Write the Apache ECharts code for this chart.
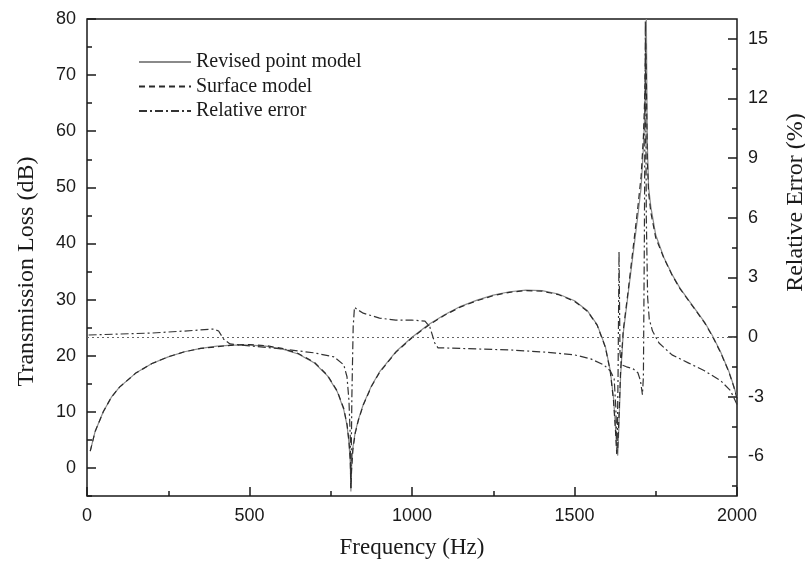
<!DOCTYPE html>
<html>
<head>
<meta charset="utf-8">
<script src="https://cdn.jsdelivr.net/npm/echarts@6/dist/echarts.min.js"></script>
<style>
html, body { margin: 0; padding: 0; background: #fff; }
#chart { width: 805px; height: 564px; }
</style>
</head>
<body>
<div id="chart"></div>
<script>
// frequency grid for the transmission loss curves (Hz)
var freqTL = [10, 25, 50, 75, 100, 150, 200, 250, 300, 350, 400, 450, 500, 550, 600,
    650, 700, 740, 770, 790, 800, 806, 810, 812, 814, 818, 825, 835, 850, 875,
    900, 950, 1000, 1050, 1100, 1150, 1200, 1250, 1300, 1350, 1400, 1450, 1500, 1540, 1570,
    1595, 1610, 1620, 1626, 1630, 1633, 1637, 1642, 1650, 1665, 1680, 1695, 1705, 1712, 1716,
    1719, 1721, 1724, 1728, 1735, 1750, 1775, 1800, 1825, 1850, 1875, 1900, 1925, 1950, 1975,
    1990, 2000];

var revisedTL = [3.0, 6.5, 10.0, 12.6, 14.4, 16.9, 18.6, 19.8, 20.7, 21.3, 21.7, 21.9, 21.9, 21.7, 21.2,
    20.3, 18.7, 16.4, 13.6, 10.4, 7.6, 4.5, 1.0, -4.2, 0.2, 3.6, 6.3, 8.6, 11.3, 14.6,
    17.1, 20.7, 23.3, 25.5, 27.3, 28.8, 29.9, 30.8, 31.4, 31.7, 31.6, 31.0, 29.8, 28.0, 25.5,
    21.6, 17.4, 12.5, 7.5, 3.0, 2.2, 8.0, 16.5, 24.0, 31.0, 38.0, 45.0, 50.0, 57.0, 63.0,
    72.0, 80.0, 58.0, 50.0, 46.5, 41.5, 37.5, 34.5, 32.0, 30.0, 28.0, 26.0, 23.5, 20.6, 17.2,
    14.6, 12.6];

var surfaceTL = [3.0, 6.5, 10.0, 12.6, 14.4, 16.9, 18.6, 19.8, 20.7, 21.3, 21.6, 21.9, 22.0, 21.8, 21.3,
    20.4, 18.8, 16.5, 13.7, 10.6, 7.8, 4.8, 1.5, -3.6, -0.5, 3.2, 6.1, 8.5, 11.2, 14.5,
    17.0, 20.6, 23.2, 25.4, 27.2, 28.7, 29.8, 30.7, 31.3, 31.6, 31.5, 30.9, 29.7, 27.9, 25.4,
    21.5, 17.2, 12.0, 6.8, 2.5, 3.5, 9.5, 17.5, 24.5, 31.5, 39.0, 46.5, 52.0, 59.0, 66.0,
    76.0, 70.0, 55.0, 49.0, 45.5, 41.0, 37.4, 34.4, 31.9, 29.9, 27.9, 25.9, 23.4, 20.5, 17.1,
    14.5, 12.4];

// relative error between the two models (%)
var freqErr = [5, 100, 200, 300, 390, 405, 420, 440, 500, 600, 700, 760, 790, 800, 806,
    810, 812, 815, 819, 823, 830, 850, 900, 950, 1000, 1040, 1055, 1070, 1080, 1100,
    1200, 1300, 1400, 1500, 1550, 1590, 1610, 1622, 1627, 1631, 1634, 1637, 1640, 1645, 1660,
    1680, 1695, 1703, 1709, 1712, 1715, 1718, 1721, 1725, 1730, 1740, 1760, 1800, 1850, 1900,
    1950, 1980, 2000];

var relErr = [0.1, 0.15, 0.2, 0.3, 0.4, 0.3, -0.1, -0.35, -0.45, -0.6, -0.8, -1.0, -1.4, -2.0, -3.2,
    -5.0, -7.6, -3.0, 0.5, 1.5, 1.4, 1.2, 0.95, 0.85, 0.85, 0.8, 0.5, -0.3, -0.55, -0.55,
    -0.6, -0.65, -0.75, -0.9, -1.1, -1.4, -1.7, -2.1, -3.5, -5.8, -2.0, 4.3, -0.8, -1.4, -1.5,
    -1.6, -1.8, -2.2, -2.9, -2.0, 5.0, 15.9, 6.0, 2.0, 0.9, 0.3, -0.3, -0.9, -1.3, -1.7,
    -2.2, -2.7, -3.4];

var freqLabels = [0, 500, 1000, 1500, 2000];
var freqMinor = [250, 750, 1250, 1750];
var tlLabels = [0, 10, 20, 30, 40, 50, 60, 70, 80];
var tlMinor = [-5, 5, 15, 25, 35, 45, 55, 65, 75];
var errLabels = [-6, -3, 0, 3, 6, 9, 12, 15];
var errMinor = [-7.5, -4.5, -1.5, 1.5, 4.5, 7.5, 10.5, 13.5];

function pairs(xs, ys) {
    var out = [];
    for (var i = 0; i < xs.length; i++) {
        out.push([xs[i], ys[i]]);
    }
    return out;
}

var ink = '#1a1a1a';
var sans = "'Liberation Sans', Arial, sans-serif";
var serif = "'Liberation Serif', 'Times New Roman', serif";

function tickLabel(values) {
    return {
        customValues: values, margin: 11,
        fontFamily: sans, fontSize: 18, color: ink,
        formatter: function (v) { return String(v); }
    };
}

function mainTick(values) {
    return {
        show: true, inside: true, length: 9, customValues: values,
        lineStyle: { color: ink, width: 1.5 }
    };
}

// axis that only draws a set of short ticks, laid over the real one
function tickAxis(base, values, len) {
    return {
        type: 'value',
        min: base.min,
        max: base.max,
        position: base.position,
        axisLine: { show: false, onZero: false },
        axisLabel: { show: false },
        splitLine: { show: false },
        axisTick: {
            show: true, inside: true, length: len,
            customValues: values,
            lineStyle: { color: ink, width: 1.5 }
        }
    };
}

var chart = echarts.init(document.getElementById('chart'), null, { renderer: 'canvas' });

var xMain = {
    type: 'value', min: 0, max: 2000, position: 'bottom',
    name: 'Frequency (Hz)', nameLocation: 'middle', nameGap: 40,
    nameTextStyle: { fontFamily: serif, fontSize: 23, color: ink },
    axisLine: { show: false, onZero: false },
    splitLine: { show: false },
    axisLabel: tickLabel(freqLabels),
    axisTick: mainTick(freqLabels)
};

var yLeft = {
    type: 'value', min: -5, max: 80, position: 'left',
    name: 'Transmission Loss (dB)', nameLocation: 'middle', nameGap: 48,
    nameTextStyle: { fontFamily: serif, fontSize: 24, color: ink, padding: [0, 28, 0, 0] },
    axisLine: { show: false, onZero: false },
    splitLine: { show: false },
    axisLabel: tickLabel(tlLabels),
    axisTick: mainTick(tlLabels)
};

var yRight = {
    type: 'value', min: -8, max: 16, position: 'right',
    name: 'Relative Error (%)', nameLocation: 'middle', nameGap: 47, nameRotate: 90,
    nameTextStyle: { fontFamily: serif, fontSize: 24, color: ink, padding: [0, 0, 0, 110] },
    axisLine: { show: false, onZero: false },
    splitLine: { show: false },
    axisLabel: tickLabel(errLabels),
    axisTick: mainTick(errLabels)
};

var option = {
    backgroundColor: '#fff',
    animation: false,
    grid: {
        left: 87, right: 68, top: 19, bottom: 68,
        outerBoundsMode: 'none', containLabel: false,
        show: true, borderColor: ink, borderWidth: 1.5
    },
    legend: {
        orient: 'vertical', left: 133, top: 47,
        itemWidth: 52, itemHeight: 14, itemGap: 4.5,
        itemStyle: { opacity: 0 },
        textStyle: { fontFamily: serif, fontSize: 20, color: ink },
        data: ['Revised point model', 'Surface model', 'Relative error']
    },
    xAxis: [xMain, tickAxis(xMain, freqMinor, 5)],
    yAxis: [yLeft, yRight, tickAxis(yLeft, tlMinor, 5), tickAxis(yRight, errMinor, 5)],
    series: [
        {
            name: 'Revised point model', type: 'line', xAxisIndex: 0, yAxisIndex: 0,
            symbol: 'none', data: pairs(freqTL, revisedTL),
            lineStyle: { color: '#8a8a8a', width: 1.2, type: 'solid' },
            itemStyle: { color: '#8a8a8a' }
        },
        {
            name: 'Surface model', type: 'line', xAxisIndex: 0, yAxisIndex: 0,
            symbol: 'none', data: pairs(freqTL, surfaceTL),
            lineStyle: { color: '#2a2a2a', width: 1.2, type: [6, 4] },
            itemStyle: { color: '#2a2a2a' }
        },
        {
            name: 'Relative error', type: 'line', xAxisIndex: 0, yAxisIndex: 1,
            symbol: 'none', data: pairs(freqErr, relErr),
            lineStyle: { color: '#333', width: 1.2, type: [8, 3, 2, 3] },
            itemStyle: { color: '#333' },
            markLine: {
                silent: true, symbol: 'none', label: { show: false },
                lineStyle: { color: '#666', width: 1, type: [2, 3] },
                data: [{ yAxis: 0 }]
            }
        }
    ]
};

chart.setOption(option);
</script>
</body>
</html>
